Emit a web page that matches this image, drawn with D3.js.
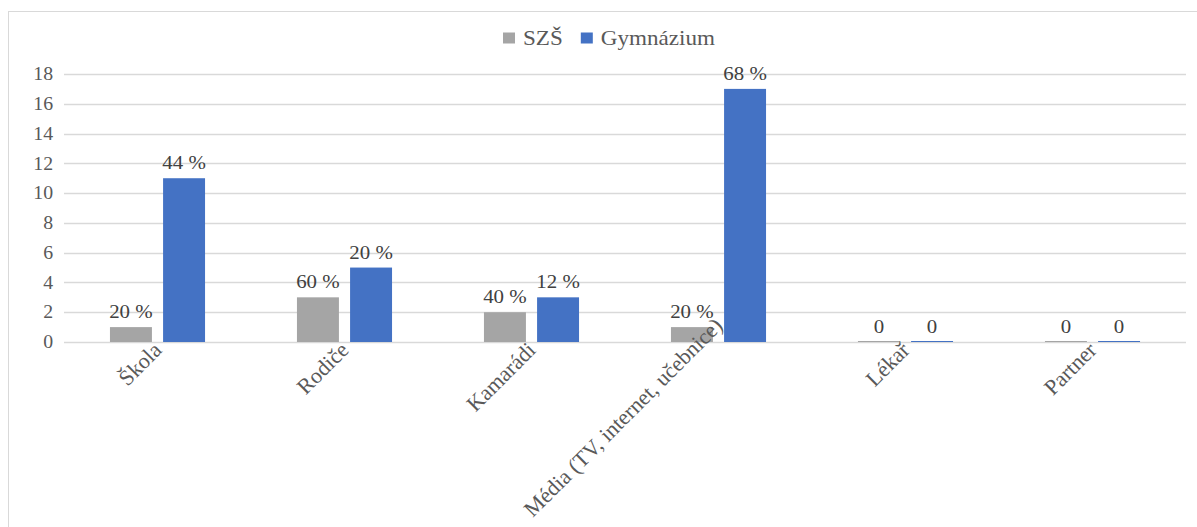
<!DOCTYPE html>
<html>
<head>
<meta charset="utf-8">
<script src="https://cdn.jsdelivr.net/npm/d3@7"></script>
<style>
  html, body { margin: 0; padding: 0; background: #fff; }
  svg { display: block; }
</style>
</head>
<body>
<svg id="chart" width="1197" height="527"></svg>
<script>
// Zdroje informací – počty odpovědí podle typu školy
const categories = ["Škola", "Rodiče", "Kamarádi", "Média (TV, internet, učebnice)", "Lékař", "Partner"];
const seriesNames = ["SZŠ", "Gymnázium"];
const szsValues = [1, 3, 2, 1, 0, 0];
const gymValues = [11, 5, 3, 17, 0, 0];
const szsLabels = ["20 %", "60 %", "40 %", "20 %", "0", "0"];
const gymLabels = ["44 %", "20 %", "12 %", "68 %", "0", "0"];
const yTicks = [0, 2, 4, 6, 8, 10, 12, 14, 16, 18];
const seriesColors = ["#a5a5a5", "#4472c4"];

// pick the first serif face that is actually present
function hasFont(name) {
  const ctx = document.createElement("canvas").getContext("2d");
  const probe = "Gymnázium mmmWWWiii 0123";
  return ["monospace", "sans-serif"].some(base => {
    ctx.font = `40px ${base}`;
    const w0 = ctx.measureText(probe).width;
    ctx.font = `40px "${name}", ${base}`;
    return ctx.measureText(probe).width !== w0;
  });
}
const serifCandidates = ["Liberation Serif", "Tinos", "Times New Roman", "Times", "DejaVu Serif", "Noto Serif", "FreeSerif", "Nimbus Roman", "Nimbus Roman No9 L", "Bitstream Vera Serif", "Noto Serif CJK SC", "serif"];
const fontFamily = serifCandidates.find(hasFont) || "serif";

const svg = d3.select("#chart").style("font-family", `"${fontFamily}", serif`);
const plot = { left: 64, right: 1186, top: 74, bottom: 342 };
const stretch = "scale(1.1,1)";

// chart area frame
svg.append("rect")
  .attr("x", 8.5).attr("y", 11.5)
  .attr("width", 1300).attr("height", 700)
  .attr("fill", "#fff").attr("stroke", "#d9d9d9").attr("stroke-width", 1);

const x = d3.scaleBand().domain(categories).range([plot.left, plot.right]).paddingInner(0).paddingOuter(0);
const y = d3.scaleLinear().domain([0, 18]).range([plot.bottom, plot.top]);

const groupInner = 0.5085; // share of band used by the pair of bars
const x1 = d3.scaleBand().domain(seriesNames)
  .range([0, x.bandwidth() * groupInner]).paddingInner(0.21);
const groupOffset = (x.bandwidth() - x.bandwidth() * groupInner) / 2;

// gridlines
svg.append("g")
  .selectAll("line").data(yTicks).join("line")
  .attr("x1", plot.left).attr("x2", plot.right)
  .attr("y1", d => Math.round(y(d)) + 0.5).attr("y2", d => Math.round(y(d)) + 0.5)
  .attr("stroke", "#d9d9d9").attr("stroke-width", 1.3);

// y axis labels
const yAxis = svg.append("g")
  .attr("transform", `translate(${plot.left - 1},0)`)
  .call(d3.axisLeft(y).tickValues(yTicks).tickSize(0).tickPadding(9));
yAxis.attr("font-family", null);
yAxis.select(".domain").remove();
yAxis.selectAll("text")
  .attr("font-size", 18).attr("fill", "#595959")
  .attr("transform", stretch);

// bars
const rows = categories.map((c, i) => ({
  cat: c,
  vals: [
    { s: seriesNames[0], v: szsValues[i], lbl: szsLabels[i], color: seriesColors[0] },
    { s: seriesNames[1], v: gymValues[i], lbl: gymLabels[i], color: seriesColors[1] }
  ]
}));

const groups = svg.append("g").selectAll("g").data(rows).join("g")
  .attr("transform", d => `translate(${x(d.cat) + groupOffset},0)`);

groups.selectAll("rect").data(d => d.vals).join("rect")
  .attr("x", d => x1(d.s))
  .attr("width", x1.bandwidth())
  .attr("y", d => y(d.v) - (d.v === 0 ? 1 : 0))
  .attr("height", d => Math.max(1, y(0) - y(d.v)))
  .attr("fill", d => d.color);

// data labels
groups.selectAll("text").data(d => d.vals).join("text")
  .attr("transform", d => `translate(${x1(d.s) + x1.bandwidth() / 2},${y(d.v) - 9}) ${stretch}`)
  .attr("text-anchor", "middle")
  .attr("font-size", 19).attr("fill", "#404040")
  .text(d => d.lbl);

// category labels, rotated
const catFont = 22;
const catLimit = 518;
const catG = svg.append("g");
categories.forEach(c => {
  const cx = x(c) + x.bandwidth() / 2;
  const t = catG.append("text")
    .attr("text-anchor", "end")
    .attr("font-size", catFont).attr("fill", "#595959")
    .attr("dy", "0.35em")
    .text(c);
  const L = t.node().getComputedTextLength();
  let ay = 346;
  const bottom = ay + 0.35 * catFont * 0.707 + L * 0.707;
  if (bottom > catLimit) ay -= bottom - catLimit;
  t.attr("transform", `translate(${cx},${ay}) rotate(-45)`);
});

// legend
const legend = svg.append("g").attr("transform", "translate(0,38)");
const items = [];
seriesNames.forEach((n, i) => {
  const g = legend.append("g");
  g.append("rect").attr("x", 0).attr("y", -5.5).attr("width", 12).attr("height", 11).attr("fill", seriesColors[i]);
  const t = g.append("text").attr("x", 0).attr("dy", "0.35em")
    .attr("font-size", 21).attr("fill", "#595959").text(n);
  const tw = t.node().getComputedTextLength() * 1.1;
  t.attr("transform", `translate(20,0) ${stretch}`);
  items.push({ g, w: 20 + tw });
});
const gap = 18;
const total = d3.sum(items, d => d.w) + gap * (items.length - 1);
let lx = 609 - total / 2;
items.forEach(it => {
  it.g.attr("transform", `translate(${lx},0)`);
  lx += it.w + gap;
});
</script>
</body>
</html>
